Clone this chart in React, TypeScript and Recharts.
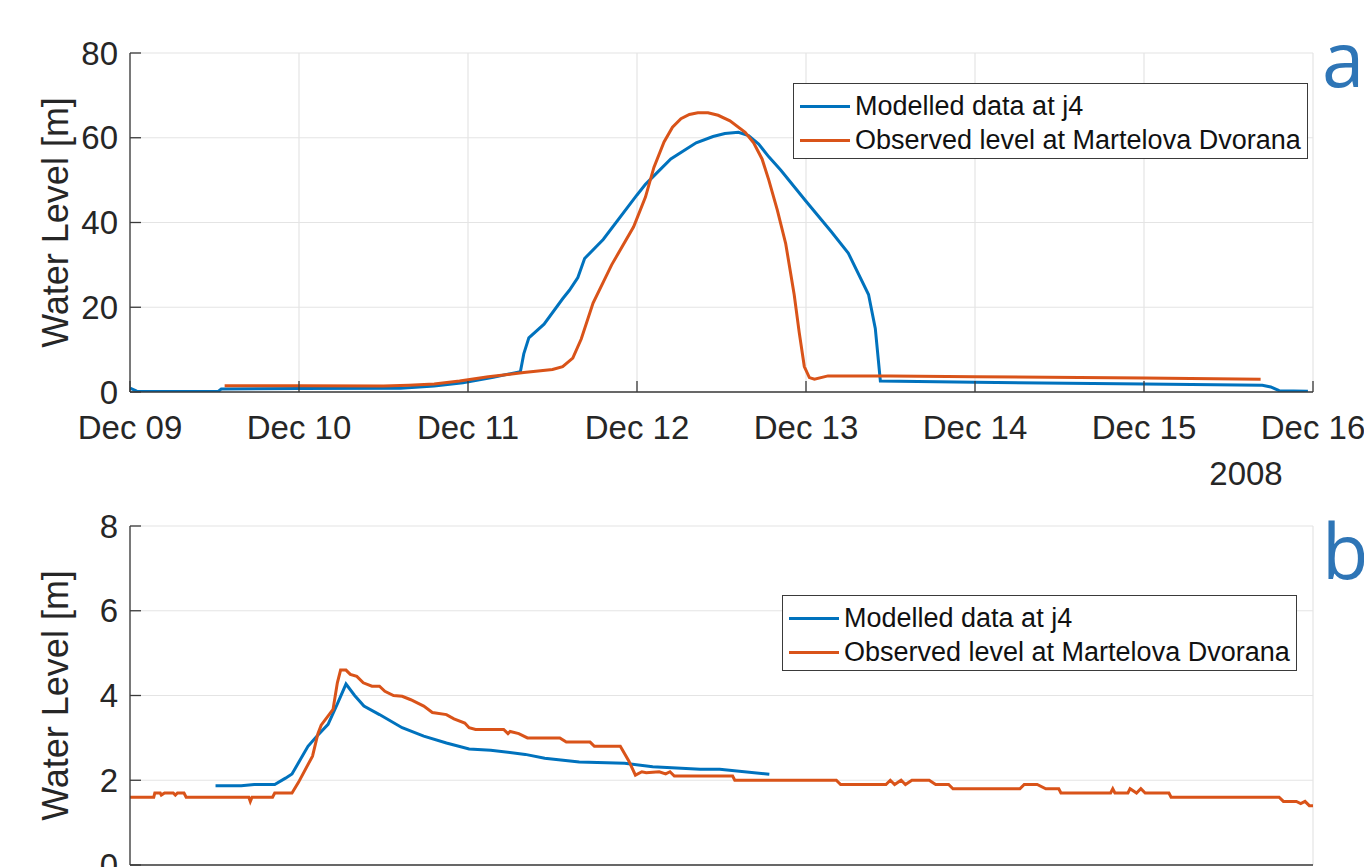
import { CartesianGrid, Legend, Line, LineChart, XAxis, YAxis } from "recharts";

// panel a: x in days since Dec 09 2008 00:00
const dayTicks = [0, 1, 2, 3, 4, 5, 6, 7];
const dayLabels = ["Dec 09", "Dec 10", "Dec 11", "Dec 12", "Dec 13", "Dec 14", "Dec 15", "Dec 16"];
const levelTicksA = [0, 20, 40, 60, 80];

// panel b: x in grid units (tick labels are cropped off in the source)
const gridTicksB = [0, 1, 2, 3, 4, 5];
const levelTicksB = [0, 2, 4, 6, 8];

const seriesNames = ["Modelled data at j4", "Observed level at Martelova Dvorana"];
const seriesColors = ["#0072BD", "#D95319"];

const modelledA: [number, number][] = [
  [0, 0.9], [0.04, 0.2], [0.52, 0.1], [0.54, 0.7], [1.0, 0.8], [1.6, 0.9], [1.8, 1.4],
  [1.97, 2.2], [2.15, 3.5], [2.31, 4.8], [2.33, 9], [2.36, 12.8], [2.45, 16], [2.56, 22],
  [2.6, 24], [2.65, 27], [2.69, 31.5], [2.8, 36], [3.0, 46.5], [3.05, 49], [3.2, 55],
  [3.35, 58.8], [3.45, 60.3], [3.52, 61], [3.6, 61.3], [3.66, 60.5], [3.72, 58.5],
  [3.78, 55.5], [3.85, 52.4], [4.0, 45], [4.15, 37.8], [4.25, 32.8], [4.37, 23], [4.41, 15],
  [4.44, 2.6], [5.0, 2.3], [6.0, 1.9], [6.7, 1.6], [6.75, 1.2], [6.8, 0.3], [6.97, 0.2],
];

const observedA: [number, number][] = [
  [0.56, 1.5], [1.0, 1.5], [1.5, 1.4], [1.65, 1.6], [1.8, 1.9], [1.95, 2.6], [2.12, 3.6],
  [2.33, 4.6], [2.5, 5.3], [2.56, 6], [2.62, 8], [2.67, 12.5], [2.74, 21], [2.85, 30],
  [2.98, 39], [3.05, 46], [3.1, 53], [3.16, 59], [3.21, 62.5], [3.26, 64.5], [3.31, 65.5],
  [3.36, 65.9], [3.42, 65.9], [3.48, 65.3], [3.55, 64], [3.64, 61.3], [3.69, 58.8],
  [3.74, 55], [3.78, 50], [3.83, 43], [3.88, 35], [3.93, 23], [3.96, 14], [3.99, 6],
  [4.02, 3.4], [4.05, 3.0], [4.13, 3.8], [4.5, 3.8], [5.0, 3.6], [6.0, 3.3], [6.69, 3.0],
];

const modelledB: [number, number][] = [
  [0.396, 1.87], [0.515, 1.87], [0.575, 1.9], [0.67, 1.9], [0.72, 2.05], [0.75, 2.15],
  [0.79, 2.5], [0.824, 2.8], [0.865, 3.04], [0.917, 3.32], [0.96, 3.8], [1.0, 4.27],
  [1.04, 4.0], [1.083, 3.75], [1.155, 3.55], [1.26, 3.24], [1.36, 3.04], [1.465, 2.88],
  [1.57, 2.74], [1.67, 2.71], [1.83, 2.61], [1.92, 2.52], [2.08, 2.43], [2.29, 2.4],
  [2.42, 2.32], [2.64, 2.26], [2.73, 2.26], [2.96, 2.14],
];

const observedB: [number, number][] = [
  [0, 1.6], [0.11, 1.6], [0.115, 1.7], [0.14, 1.7], [0.145, 1.65], [0.16, 1.7], [0.2, 1.7],
  [0.21, 1.65], [0.22, 1.7], [0.25, 1.7], [0.26, 1.6], [0.55, 1.6], [0.557, 1.5], [0.565, 1.6],
  [0.66, 1.6], [0.67, 1.7], [0.75, 1.7], [0.78, 1.95], [0.845, 2.57], [0.87, 3.1], [0.885, 3.3],
  [0.94, 3.67], [0.96, 4.3], [0.975, 4.6], [1.0, 4.6], [1.02, 4.5], [1.05, 4.45], [1.08, 4.3],
  [1.12, 4.22], [1.155, 4.22], [1.18, 4.1], [1.22, 4.0], [1.26, 3.98], [1.3, 3.9], [1.36, 3.75],
  [1.4, 3.6], [1.465, 3.55], [1.5, 3.45], [1.55, 3.35], [1.57, 3.24], [1.6, 3.2], [1.73, 3.2],
  [1.75, 3.1], [1.76, 3.15], [1.8, 3.1], [1.84, 3.0], [1.99, 3.0], [2.02, 2.9], [2.13, 2.9],
  [2.15, 2.8], [2.27, 2.8], [2.31, 2.45], [2.34, 2.12], [2.37, 2.2], [2.39, 2.18], [2.45, 2.2],
  [2.48, 2.15], [2.5, 2.2], [2.52, 2.1], [2.79, 2.1], [2.8, 2.0], [3.27, 2.0], [3.29, 1.9],
  [3.5, 1.9], [3.52, 2.0], [3.54, 1.9], [3.57, 2.0], [3.59, 1.9], [3.62, 2.0], [3.7, 2.0],
  [3.73, 1.9], [3.79, 1.9], [3.81, 1.8], [4.12, 1.8], [4.14, 1.9], [4.2, 1.9], [4.24, 1.8],
  [4.3, 1.8], [4.31, 1.7], [4.54, 1.7], [4.55, 1.8], [4.56, 1.7], [4.62, 1.7], [4.63, 1.8],
  [4.66, 1.7], [4.68, 1.8], [4.7, 1.7], [4.81, 1.7], [4.82, 1.6], [5.32, 1.6], [5.34, 1.5],
  [5.4, 1.5], [5.42, 1.45], [5.44, 1.5], [5.46, 1.4], [5.477, 1.4],
];

const FONT = "'Liberation Sans', Arial, sans-serif";
const AXIS = "#3a3a3a";
const toPoints = (rows: [number, number][]) => rows.map(([x, y]) => ({ x, y }));

function BoxLegend(props: any) {
  const items = props.payload ?? [];
  return (
    <div
      style={{
        display: "inline-block",
        border: `1.5px solid ${AXIS}`,
        background: "#fff",
        padding: "5px 6px 1px 6px",
        fontFamily: FONT,
        fontSize: 27,
        color: "#111",
      }}
    >
      {items.map((item: any) => (
        <div key={item.value} style={{ display: "flex", alignItems: "center", height: 34, lineHeight: "34px" }}>
          <span style={{ display: "inline-block", width: 50, height: 3, background: item.color, marginRight: 5 }} />
          <span>{item.value}</span>
        </div>
      ))}
    </div>
  );
}

const yTitle = (props: any) => {
  const vb = props.viewBox;
  const cx = vb.x + 25;
  const cy = vb.y + vb.height / 2;
  return (
    <text x={cx} y={cy} transform={`rotate(-90 ${cx} ${cy})`} textAnchor="middle" dominantBaseline="central"
      fontSize={36} fontFamily={FONT} fill="#262626">
      Water Level [m]
    </text>
  );
};

const yearLabel = (props: any) => {
  const vb = props.viewBox;
  return (
    <text x={vb.x + vb.width - 67} y={vb.y + 81} textAnchor="middle" dominantBaseline="central"
      fontSize={33} fontFamily={FONT} fill="#262626">
      2008
    </text>
  );
};

function Panel({
  modelled,
  observed,
  xDomain,
  xTicks,
  yDomain,
  yTicks,
  top,
  legendPos,
  dated,
}: {
  modelled: [number, number][];
  observed: [number, number][];
  xDomain: [number, number];
  xTicks: number[];
  yDomain: [number, number];
  yTicks: number[];
  top: number;
  legendPos: { left: number; top: number };
  dated: boolean;
}) {
  const tickStyle = { fill: "#262626", fontSize: 33, fontFamily: FONT };
  return (
    <LineChart width={1364} height={500} margin={{ top, right: 51, bottom: 108 - 60 - (top - 53), left: 30 }}>
      <CartesianGrid stroke="#e4e4e4" strokeWidth={1.2} />
      <XAxis
        type="number"
        dataKey="x"
        domain={xDomain}
        ticks={xTicks}
        interval={0}
        height={60}
        stroke={AXIS}
        strokeWidth={1.3}
        tickSize={-11}
        tickMargin={dated ? 35 : 0}
        tick={dated ? tickStyle : false}
        tickFormatter={(v: number) => dayLabels[v] ?? ""}
        label={dated ? yearLabel : undefined}
        allowDataOverflow
      />
      <XAxis xAxisId="top" orientation="top" type="number" domain={xDomain} ticks={xTicks} interval={0}
        height={0} stroke={AXIS} strokeWidth={1.3} tickSize={-11} tick={false} allowDataOverflow />
      <YAxis
        type="number"
        domain={yDomain}
        ticks={yTicks}
        interval={0}
        width={100}
        stroke={AXIS}
        strokeWidth={1.3}
        tickSize={-11}
        tickMargin={23}
        tick={tickStyle}
        label={yTitle}
        allowDataOverflow
      />
      <YAxis yAxisId="right" orientation="right" type="number" domain={yDomain} ticks={yTicks} interval={0}
        width={0} stroke={AXIS} strokeWidth={1.3} tickSize={-11} tick={false} allowDataOverflow />
      <Legend
        layout="vertical"
        align="center"
        verticalAlign="middle"
        content={BoxLegend}
        wrapperStyle={{ left: legendPos.left, top: legendPos.top, width: "auto", height: "auto" }}
      />
      <Line data={toPoints(modelled)} dataKey="y" name={seriesNames[0]} type="linear" stroke={seriesColors[0]}
        strokeWidth={3} dot={false} isAnimationActive={false} />
      <Line data={toPoints(observed)} dataKey="y" name={seriesNames[1]} type="linear" stroke={seriesColors[1]}
        strokeWidth={3} dot={false} isAnimationActive={false} />
    </LineChart>
  );
}

export default function App() {
  const tag = { position: "absolute" as const, left: 1322, fontSize: 76, lineHeight: "76px", color: "#2E75B6", fontFamily: "'Open Sans', sans-serif" };
  return (
    <div style={{ position: "fixed", left: 0, top: 0, width: 1364, height: 867, overflow: "hidden", background: "#fff" }}>
      <div style={{ position: "absolute", left: 0, top: 0 }}>
        <Panel modelled={modelledA} observed={observedA} xDomain={[0, 7]} xTicks={dayTicks} yDomain={[0, 80]}
          yTicks={levelTicksA} top={53} legendPos={{ left: 793, top: 83 }} dated />
      </div>
      <div style={{ position: "absolute", left: 0, top: 440 }}>
        <Panel modelled={modelledB} observed={observedB} xDomain={[0, 5.477]} xTicks={gridTicksB} yDomain={[0, 8]}
          yTicks={levelTicksB} top={86} legendPos={{ left: 782, top: 155 }} dated={false} />
      </div>
      <div style={{ ...tag, top: 20 }}>a</div>
      <div style={{ ...tag, top: 512 }}>b</div>
    </div>
  );
}
